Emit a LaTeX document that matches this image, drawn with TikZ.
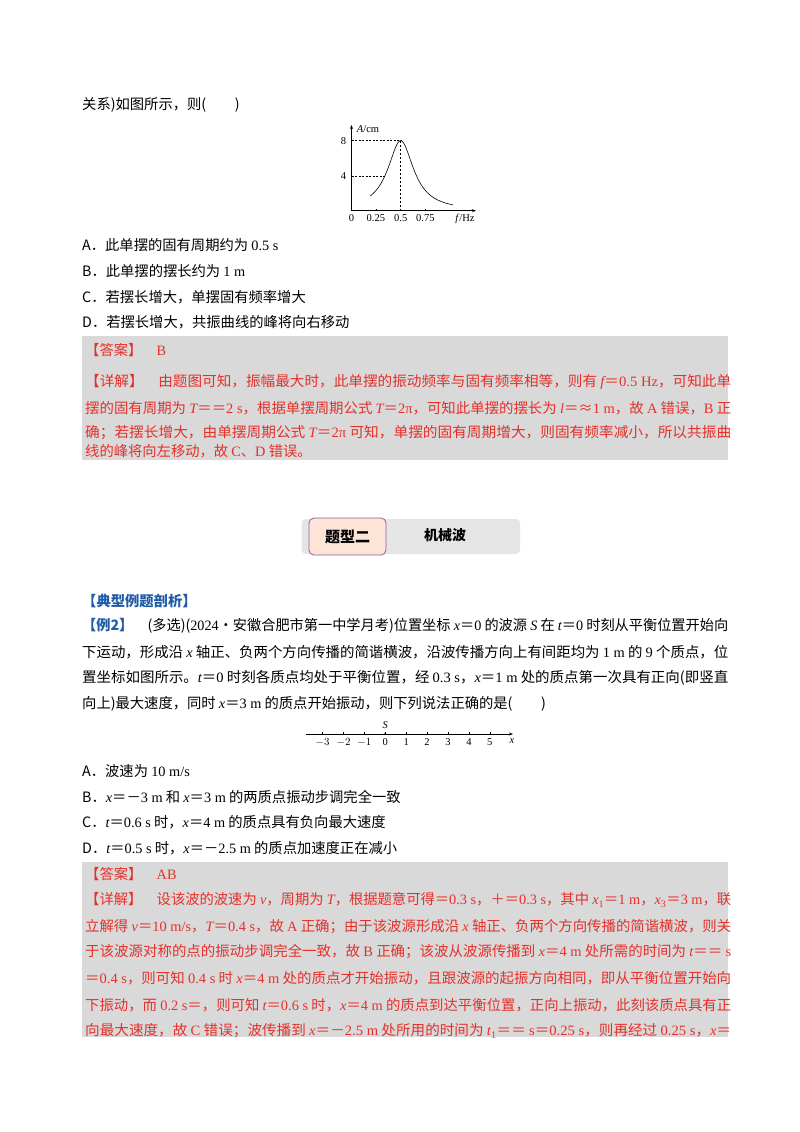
\documentclass[tikz,border=0pt]{standalone}
\usepackage{fontspec}
\usetikzlibrary{arrows.meta}
\setmainfont{Noto Sans CJK SC}
\newfontfamily\lat{Liberation Serif}
\newcommand\I[1]{{\lat\itshape #1}}
\newcommand\R[1]{{\lat #1}}
\newcommand\fl[1]{\resizebox{646pt}{\height}{#1}}
\definecolor{ans}{HTML}{E5302A}
\definecolor{boxg}{HTML}{D9D9D9}
\definecolor{hd}{HTML}{1F5CA8}
\definecolor{pur}{HTML}{8E5BA8}
\definecolor{peach}{HTML}{FCE4D6}
\begin{document}
\begin{tikzpicture}[x=1pt,y=-1pt,
  txt/.style={anchor=west,inner sep=0pt,font=\fontsize{14.3}{16}\selectfont},
  rtxt/.style={txt,text=ans},
  small/.style={inner sep=0pt,font=\fontsize{10.5}{12}\selectfont\lat},
  ax/.style={line width=0.6pt,-{Stealth[length=4pt,width=3pt]}},
  dsh/.style={dashed,line width=0.5pt,dash pattern=on 2pt off 1.5pt}]
\useasboundingbox[fill=white] (0,0) rectangle (800,1132);

\node[txt] (l0) at (82,105) {关系)如图所示，则(\hspace{2em})};

% graph
\coordinate (o) at (351.5,210.7);
\coordinate (yt) at (351.5,125);
\coordinate (xt) at (476,210.7);
\draw[ax] (o) -- (yt);
\draw[ax] (o) -- (xt);
\foreach \xx in {375.9,425.4} \draw[line width=0.5pt] (\xx,210.7) -- (\xx,208.5);
\draw[dsh] (351.5,140.7) -- (400.7,140.7);
\draw[dsh] (351.5,176) -- (385,176);
\draw[dashed,line width=0.7pt,dash pattern=on 2.5pt off 1.5pt] (400.7,140.7) -- (400.7,210.7);
\draw[line width=0.6pt,samples=80,smooth,domain=0.19:1.03,variable=\f] plot ({351.5+98.4*\f},{210.7-70/(1+((\f-0.5)/0.16)^2)});
\node[small] (y8) at (343.5,140.7) {8};
\node[small] (y4) at (343.5,176) {4};
\node[small] (ya) at (368,129) {\textit{A}/cm};
\node[small] (x0) at (351.5,218.5) {0};
\node[small] (x1) at (375.9,218.5) {0.25};
\node[small] (x2) at (400.7,218.5) {0.5};
\node[small] (x3) at (425.4,218.5) {0.75};
\node[small] (xf) at (465,218.5) {\textit{f}/Hz};

\node[txt] (a1) at (82,245) {A．此单摆的固有周期约为 \R{0.5 s}};
\node[txt] (a2) at (82,271) {B．此单摆的摆长约为 \R{1 m}};
\node[txt] (a3) at (82,297) {C．若摆长增大，单摆固有频率增大};
\node[txt] (a4) at (82,322) {D．若摆长增大，共振曲线的峰将向右移动};

\fill[boxg] (82,336) rectangle (728,460);
\node[rtxt] (b0) at (85,350) {【答案】\hspace{1em}\R{B}};
\node[rtxt] (b1) at (85,382) {\fl{【详解】\hspace{1em}由题图可知，振幅最大时，此单摆的振动频率与固有频率相等，则有 \I{f}＝\R{0.5 Hz}，可知此单}};
\node[rtxt] (b2) at (85,408) {\fl{摆的固有周期为 \I{T}＝＝\R{2 s}，根据单摆周期公式 \I{T}＝\R{2π}，可知此单摆的摆长为 \I{l}＝≈\R{1 m}，故 \R{A} 错误，\R{B} 正}};
\node[rtxt] (b3) at (85,433) {\fl{确；若摆长增大，由单摆周期公式 \I{T}＝\R{2π} 可知，单摆的固有周期增大，则固有频率减小，所以共振曲}};
\node[rtxt] (b4) at (85,451) {线的峰将向左移动，故 \R{C}、\R{D} 错误。};

% banner
\fill[black!10,rounded corners=4pt] (301.7,519) rectangle (520,554);
\draw[pur,fill=peach,line width=0.8pt,rounded corners=5pt] (309,518) rectangle (386,555);
\node[inner sep=0pt,font=\fontsize{15}{17}\selectfont\bfseries] (bt1) at (347.5,536.5) {题型二};
\node[inner sep=0pt,font=\fontsize{14}{16}\selectfont\bfseries] (bt2) at (445,535.5) {机械波};

\node[txt,text=hd,font=\fontsize{14.3}{16}\selectfont\bfseries] (h1) at (82,601) {【典型例题剖析】};
\node[txt] (q1) at (82,626) {\fl{{\color{hd}\bfseries【例2】}\hspace{1em}(多选)(\R{2024}·安徽合肥市第一中学月考)位置坐标 \I{x}＝\R{0} 的波源 \I{S} 在 \I{t}＝\R{0} 时刻从平衡位置开始向}};
\node[txt] (q2) at (82,652) {\fl{下运动，形成沿 \I{x} 轴正、负两个方向传播的简谐横波，沿波传播方向上有间距均为 \R{1 m} 的 \R{9} 个质点，位}};
\node[txt] (q3) at (82,678) {\fl{置坐标如图所示。\I{t}＝\R{0} 时刻各质点均处于平衡位置，经 \R{0.3 s}，\I{x}＝\R{1 m} 处的质点第一次具有正向(即竖直}};
\node[txt] (q4) at (82,704) {向上)最大速度，同时 \I{x}＝\R{3 m} 的质点开始振动，则下列说法正确的是(\hspace{2em})};

% number line
\coordinate (n0) at (306,734);
\coordinate (n1) at (513,734);
\draw[line width=0.6pt,-{Stealth[length=4pt,width=3pt]}] (n0) -- (n1);
\foreach \k in {-3,...,5} {
  \draw[line width=0.5pt] (385.3+20.9*\k,734) -- (385.3+20.9*\k,732.3);
}
\foreach \k/\t in {-3/$-3$,-2/$-2$,-1/$-1$,0/0,1/1,2/2,3/3,4/4,5/5}
  \node[small] (nl\k) at (385.3+20.9*\k,742.5) {\t};
\fill (385.3,734) circle (1.1pt);
\node[small] (ns) at (385.3,725) {\textit{S}};
\node[small] (nx) at (512,741) {\textit{x}};

\node[txt] (c1) at (82,771) {A．波速为 \R{10 m/s}};
\node[txt] (c2) at (82,797) {B．\I{x}＝－\R{3 m} 和 \I{x}＝\R{3 m} 的两质点振动步调完全一致};
\node[txt] (c3) at (82,822) {C．\I{t}＝\R{0.6 s} 时，\I{x}＝\R{4 m} 的质点具有负向最大速度};
\node[txt] (c4) at (82,848) {D．\I{t}＝\R{0.5 s} 时，\I{x}＝－\R{2.5 m} 的质点加速度正在减小};

\fill[boxg] (82,862) rectangle (728,1037);
\node[rtxt] (d0) at (85,874) {【答案】\hspace{1em}\R{AB}};
\node[rtxt] (d1) at (85,900) {\fl{【详解】\hspace{1em}设该波的波速为 \I{v}，周期为 \I{T}，根据题意可得＝\R{0.3 s}，＋＝\R{0.3 s}，其中 \I{x}\R{\textsubscript{1}}＝\R{1 m}，\I{x}\R{\textsubscript{3}}＝\R{3 m}，联}};
\node[rtxt] (d2) at (85,927) {\fl{立解得 \I{v}＝\R{10 m/s}，\I{T}＝\R{0.4 s}，故 \R{A} 正确；由于该波源形成沿 \I{x} 轴正、负两个方向传播的简谐横波，则关}};
\node[rtxt] (d3) at (85,952) {\fl{于该波源对称的点的振动步调完全一致，故 \R{B} 正确；该波从波源传播到 \I{x}＝\R{4 m} 处所需的时间为 \I{t}＝＝ \R{s}}};
\node[rtxt] (d4) at (85,978) {\fl{＝\R{0.4 s}，则可知 \R{0.4 s} 时 \I{x}＝\R{4 m} 处的质点才开始振动，且跟波源的起振方向相同，即从平衡位置开始向}};
\node[rtxt] (d5) at (85,1005) {\fl{下振动，而 \R{0.2 s}＝，则可知 \I{t}＝\R{0.6 s} 时，\I{x}＝\R{4 m} 的质点到达平衡位置，正向上振动，此刻该质点具有正}};
\node[rtxt] (d6) at (85,1031) {\fl{向最大速度，故 \R{C} 错误；波传播到 \I{x}＝－\R{2.5 m} 处所用的时间为 \I{t}\R{\textsubscript{1}}＝＝ \R{s}＝\R{0.25 s}，则再经过 \R{0.25 s}，\I{x}＝}};
\end{tikzpicture}
\end{document}
